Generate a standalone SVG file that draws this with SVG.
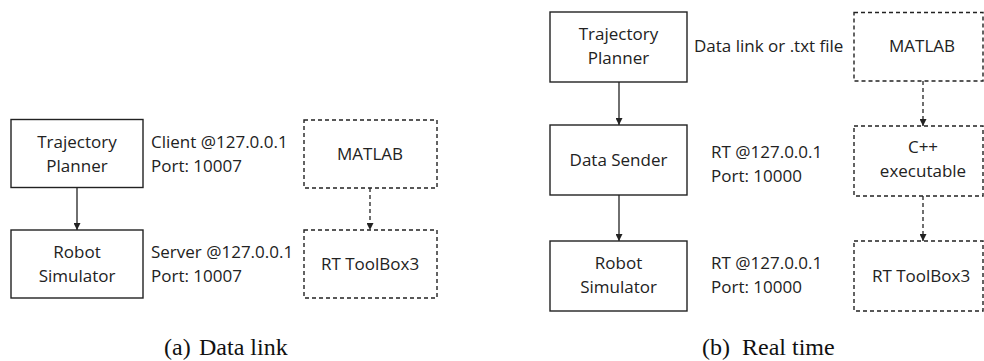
<svg xmlns="http://www.w3.org/2000/svg" width="984" height="361" viewBox="0 0 984 361">
<style>
.box{fill:#fff;stroke:#222;stroke-width:1.4}
.dbox{fill:#fff;stroke:#222;stroke-width:1.4;stroke-dasharray:4 3}
.t{font-family:"Open Sans","Liberation Sans",sans-serif;font-size:17px;fill:#222}
.c{text-anchor:middle}
.cap{font-family:"Liberation Serif","Times New Roman",serif;font-size:24px;fill:#111}
.ln{stroke:#222;stroke-width:1.3;fill:none}
.dl{stroke:#222;stroke-width:1.3;fill:none;stroke-dasharray:4 3}
</style>
<defs>
<marker id="ah" viewBox="0 0 10 10" refX="10" refY="5" markerWidth="7" markerHeight="7" markerUnits="userSpaceOnUse" orient="auto">
<path d="M0,0 L10,5 L0,10 z" fill="#222"/>
</marker>
</defs>
<rect width="984" height="361" fill="#fff"/>
<g id="connectors">
<line class="ln" x1="77" y1="188" x2="77" y2="230" marker-end="url(#ah)"/>
<line class="dl" x1="370" y1="188" x2="370" y2="230" marker-end="url(#ah)"/>
<line class="ln" x1="619" y1="82" x2="619" y2="125" marker-end="url(#ah)"/>
<line class="ln" x1="619" y1="195" x2="619" y2="241" marker-end="url(#ah)"/>
<line class="dl" x1="923" y1="81" x2="923" y2="126" marker-end="url(#ah)"/>
<line class="dl" x1="923" y1="196" x2="923" y2="241" marker-end="url(#ah)"/>
</g>
<g id="a-trajectory-planner">
<rect class="box" x="11" y="119.5" width="132" height="68"/>
<text class="t c" x="77" y="148">Trajectory</text>
<text class="t c" x="77" y="172">Planner</text>
</g>
<g id="a-robot-simulator">
<rect class="box" x="11" y="230" width="132" height="68"/>
<text class="t c" x="77" y="258">Robot</text>
<text class="t c" x="77" y="282">Simulator</text>
</g>
<g id="a-matlab">
<rect class="dbox" x="304" y="120" width="133" height="68"/>
<text class="t c" x="370" y="160">MATLAB</text>
</g>
<g id="a-rt-toolbox">
<rect class="dbox" x="304" y="230" width="133" height="68"/>
<text class="t c" x="370" y="270">RT ToolBox3</text>
</g>
<g id="a-labels">
<text class="t" x="151" y="148">Client @127.0.0.1</text>
<text class="t" x="151" y="172">Port: 10007</text>
<text class="t" x="151" y="258">Server @127.0.0.1</text>
<text class="t" x="151" y="282">Port: 10007</text>
</g>
<g id="b-trajectory-planner">
<rect class="box" x="550" y="12" width="137" height="70"/>
<text class="t c" x="618.5" y="40">Trajectory</text>
<text class="t c" x="618.5" y="64">Planner</text>
</g>
<g id="b-data-sender">
<rect class="box" x="550" y="125" width="137" height="70"/>
<text class="t c" x="618.5" y="166">Data Sender</text>
</g>
<g id="b-robot-simulator">
<rect class="box" x="550" y="241" width="137" height="70"/>
<text class="t c" x="618.5" y="269">Robot</text>
<text class="t c" x="618.5" y="293">Simulator</text>
</g>
<g id="b-matlab">
<rect class="dbox" x="854" y="12.5" width="129" height="68.5"/>
<text class="t c" x="922" y="52">MATLAB</text>
</g>
<g id="b-cpp">
<rect class="dbox" x="854" y="126" width="129" height="70"/>
<text class="t c" x="923" y="153">C++</text>
<text class="t c" x="923" y="177">executable</text>
</g>
<g id="b-rt-toolbox">
<rect class="dbox" x="854" y="241" width="129" height="70"/>
<text class="t c" x="921" y="282">RT ToolBox3</text>
</g>
<g id="b-labels">
<text class="t" x="694" y="52">Data link or .txt file</text>
<text class="t" x="711" y="158">RT @127.0.0.1</text>
<text class="t" x="711" y="182">Port: 10000</text>
<text class="t" x="711" y="269">RT @127.0.0.1</text>
<text class="t" x="711" y="293">Port: 10000</text>
</g>
<g id="captions">
<text class="cap" x="164" y="355">(a)</text>
<text class="cap" x="199" y="355">Data link</text>
<text class="cap" x="702" y="355">(b)</text>
<text class="cap" x="742" y="355">Real time</text>
</g>
</svg>
